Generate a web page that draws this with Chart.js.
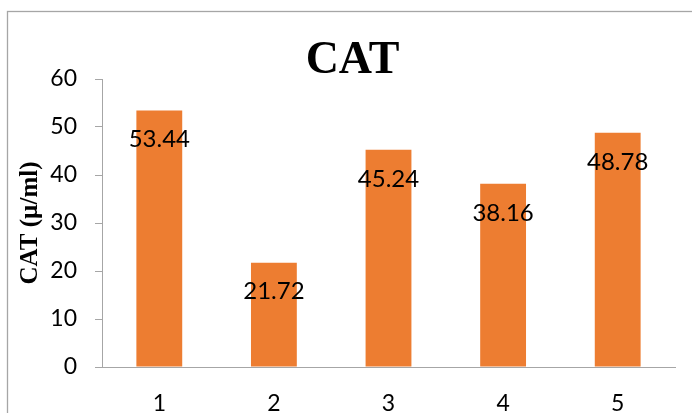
<!DOCTYPE html>
<html>
<head>
<meta charset="utf-8">
<script src="https://cdn.jsdelivr.net/npm/chart.js@4"></script>
<style>
  html, body { margin: 0; padding: 0; background: #fff; }
  #wrap { width: 692px; height: 413px; position: relative; }
</style>
</head>
<body>
<div id="wrap"><canvas id="c" width="692" height="413"></canvas></div>
<script>
const categories = ["1", "2", "3", "4", "5"];
const catValues = [53.44, 21.72, 45.24, 38.16, 48.78];
const valueLabels = ["53.44", "21.72", "45.24", "38.16", "48.78"];
const yTicks = [0, 10, 20, 30, 40, 50, 60];
const chartTitle = "CAT";
const yAxisTitle = "CAT (\u00b5/ml)";

const SANS = "Lato, 'Liberation Sans', sans-serif";
const SERIF = "'Liberation Serif', 'Times New Roman', serif";

const frame = {
  id: 'frame',
  beforeDraw(chart) {
    const ctx = chart.ctx;
    ctx.save();
    ctx.fillStyle = '#fff';
    ctx.fillRect(0, 0, chart.width, chart.height);
    ctx.strokeStyle = '#a6a6a6';
    ctx.lineWidth = 1.3;
    ctx.strokeRect(7.5, 11.5, 800, 600);
    ctx.restore();
  }
};

const centerTitle = {
  id: 'centerTitle',
  afterLayout(chart) {
    const t = chart.titleBlock;
    if (t) { t.left = 30; t.right = 675; t.width = 645; }
  }
};

const barLabels = {
  id: 'barLabels',
  afterDatasetsDraw(chart) {
    const ctx = chart.ctx;
    const meta = chart.getDatasetMeta(0);
    ctx.save();
    ctx.font = "24px " + SANS;
    ctx.fillStyle = '#000';
    ctx.textAlign = 'center';
    ctx.textBaseline = 'middle';
    meta.data.forEach((bar, i) => {
      ctx.fillText(valueLabels[i], bar.x, bar.y + 29);
    });
    ctx.restore();
  }
};

new Chart(document.getElementById('c'), {
  type: 'bar',
  data: {
    labels: categories,
    datasets: [{
      data: catValues,
      backgroundColor: '#ED7D31',
      borderWidth: 0,
      barPercentage: 0.4,
      categoryPercentage: 1.0
    }]
  },
  options: {
    responsive: false,
    animation: false,
    devicePixelRatio: 1,
    layout: { padding: { left: 0, right: 17, top: 0, bottom: 0 } },
    plugins: {
      legend: { display: false },
      tooltip: { enabled: false },
      title: {
        display: true,
        text: chartTitle,
        color: '#000',
        font: { family: SERIF, size: 46, weight: 'bold', lineHeight: 0.75 },
        padding: { top: 44, bottom: 0.5 }
      }
    },
    scales: {
      x: {
        grid: { display: false },
        border: { display: true, color: '#a6a6a6', width: 1 },
        ticks: { color: '#000', font: { family: SANS, size: 23 }, padding: 15, maxRotation: 0 },
        afterFit(scale) { scale.height = 46; }
      },
      y: {
        min: 0,
        max: 60,
        afterBuildTicks(scale) { scale.ticks = yTicks.map(v => ({ value: v })); },
        grid: { drawOnChartArea: false, drawTicks: true, tickLength: 7, color: '#a6a6a6' },
        border: { display: true, color: '#a6a6a6', width: 1 },
        ticks: { color: '#000', font: { family: SANS, size: 23 }, padding: 18 },
        title: {
          display: true,
          text: yAxisTitle,
          color: '#000',
          font: { family: SERIF, size: 25, weight: 'bold', lineHeight: 1.2 },
          padding: { top: 16, bottom: 0 }
        },
        afterFit(scale) { scale.width = 102; }
      }
    }
  },
  plugins: [frame, centerTitle, barLabels]
});
</script>
</body>
</html>
